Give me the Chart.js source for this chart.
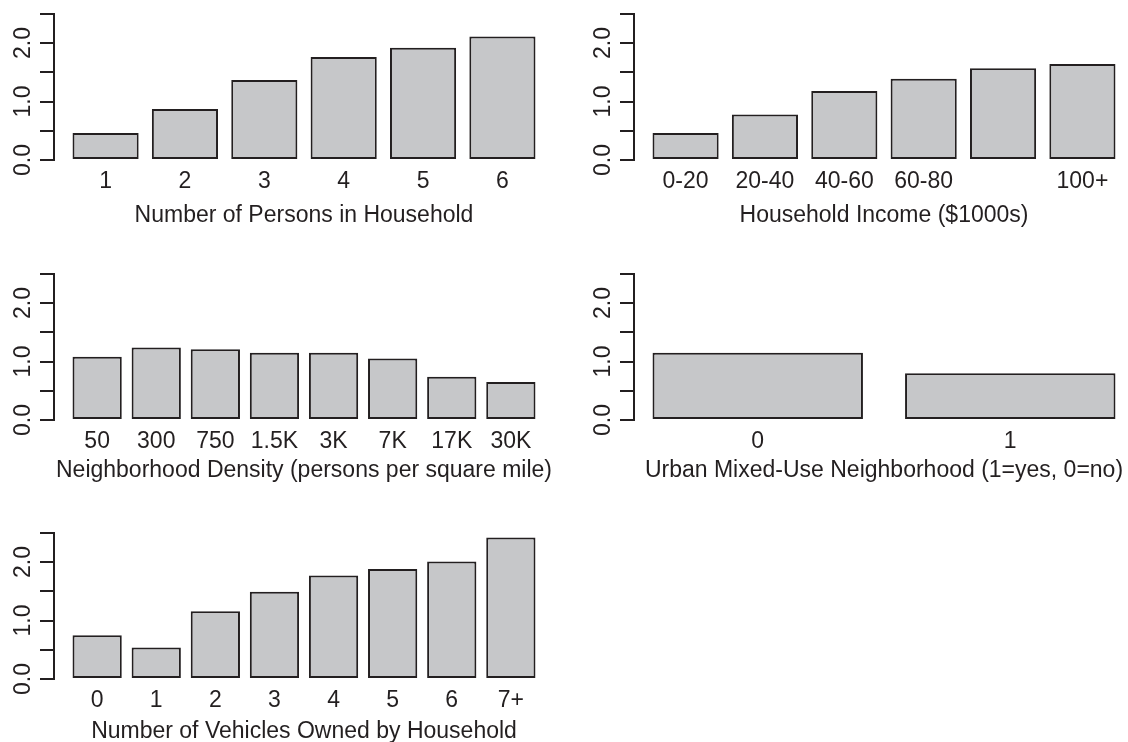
<!DOCTYPE html>
<html>
<head>
<meta charset="utf-8">
<script src="https://cdn.jsdelivr.net/npm/chart.js@4.4.1/dist/chart.umd.min.js"></script>
<style>
  html, body { margin: 0; padding: 0; background: #fff; }
  body { width: 1128px; height: 742px; position: relative; overflow: hidden; }
  canvas { position: absolute; }
</style>
</head>
<body>
<canvas id="persons"  width="580" height="250" style="left:0;top:0;"></canvas>
<canvas id="income"   width="580" height="250" style="left:580px;top:0;"></canvas>
<canvas id="density"  width="580" height="250" style="left:0;top:260px;"></canvas>
<canvas id="mixed"    width="580" height="250" style="left:580px;top:260px;"></canvas>
<canvas id="vehicles" width="580" height="250" style="left:0;top:519px;"></canvas>

<script>
/* ================================================================
================================================================ */
const personsLabels = ['1', '2', '3', '4', '5', '6'];
const personsValues = [0.46, 0.87, 1.37, 1.76, 1.92, 2.11];

// the 80-100 label is dropped in the original (overlap), so it stays blank
const incomeLabels = ['0-20', '20-40', '40-60', '60-80', '', '100+'];
const incomeValues = [0.46, 0.78, 1.18, 1.39, 1.57, 1.64];

const densityLabels = ['50', '300', '750', '1.5K', '3K', '7K', '17K', '30K'];
const densityValues = [1.08, 1.24, 1.21, 1.15, 1.15, 1.05, 0.74, 0.65];

const mixedLabels = ['0', '1'];
const mixedValues = [1.15, 0.80];

const vehicleLabels = ['0', '1', '2', '3', '4', '5', '6', '7+'];
const vehicleValues = [0.75, 0.54, 1.16, 1.49, 1.77, 1.88, 2.01, 2.42];

const Y_MAX  = 2.5;
const Y_STEP = 0.5;

/* ================================================================
   STYLE
================================================================ */
const INK  = '#231f20';
const FILL = '#c6c7c9';
const FONT = { family: '"Liberation Sans", Arial, Helvetica, sans-serif', size: 23 };

/* ── one R-style barplot: bars 1 wide, 0.2 gap, 4% axis extension ── */
function barplot(id, labels, values, title, titleGap) {
  const n      = labels.length;
  const span   = 1.2 * n - 0.2;
  const ext    = span * 0.04;
  const xmin   = 0.2 - ext;
  const xmax   = 1.2 * n + ext;
  const centers = labels.map((_, i) => 0.7 + 1.2 * i);

  new Chart(document.getElementById(id), {
    type: 'bar',
    data: {
      datasets: [{
        data: values.map((v, i) => ({ x: centers[i], y: v })),
        backgroundColor: FILL,
        borderColor: INK,
        borderWidth: 2,
        borderSkipped: false,
        categoryPercentage: 1,
        barPercentage: 1 / 1.2
      }]
    },
    options: {
      responsive: false,
      animation: false,
      events: [],
      layout: { padding: { top: 12, right: 26, left: 0, bottom: 0 } },
      plugins: { legend: { display: false }, tooltip: { enabled: false } },
      scales: {
        x: {
          type: 'linear',
          offset: false,
          min: xmin, max: xmax,
          afterBuildTicks: s => { s.ticks = centers.map(v => ({ value: v })); },
          afterFit: s => { s.height = 90; },
          grid: { display: false, drawTicks: false, offset: false },
          border: { display: false },
          ticks: {
            autoSkip: false, maxRotation: 0, padding: 8,
            color: INK, font: FONT,
            callback: (v, i) => labels[i]
          },
          title: {
            display: true, text: title, color: INK, font: FONT,
            padding: { top: 0, bottom: titleGap }
          }
        },
        y: {
          min: 0, max: Y_MAX,
          afterFit: s => { s.width = 54; },
          border: { display: true, color: INK, width: 2 },
          grid: {
            drawOnChartArea: false, drawTicks: true,
            tickLength: 14, color: INK, lineWidth: 2
          },
          ticks: {
            stepSize: Y_STEP, autoSkip: false,
            minRotation: 90, maxRotation: 90,
            crossAlign: 'center', padding: 0,
            color: INK, font: FONT,
            callback: v => (Math.abs(v - Math.round(v)) < 1e-9 ? v.toFixed(1) : '')
          }
        }
      }
    }
  });
}

barplot('persons',  personsLabels, personsValues, 'Number of Persons in Household', 21);
barplot('income',   incomeLabels,  incomeValues,  'Household Income ($1000s)', 21);
barplot('density',  densityLabels, densityValues, 'Neighborhood Density (persons per square mile)', 26);
barplot('mixed',    mixedLabels,   mixedValues,   'Urban Mixed-Use Neighborhood (1=yes, 0=no)', 26);
barplot('vehicles', vehicleLabels, vehicleValues, 'Number of Vehicles Owned by Household', 24);
</script>
</body>
</html>
